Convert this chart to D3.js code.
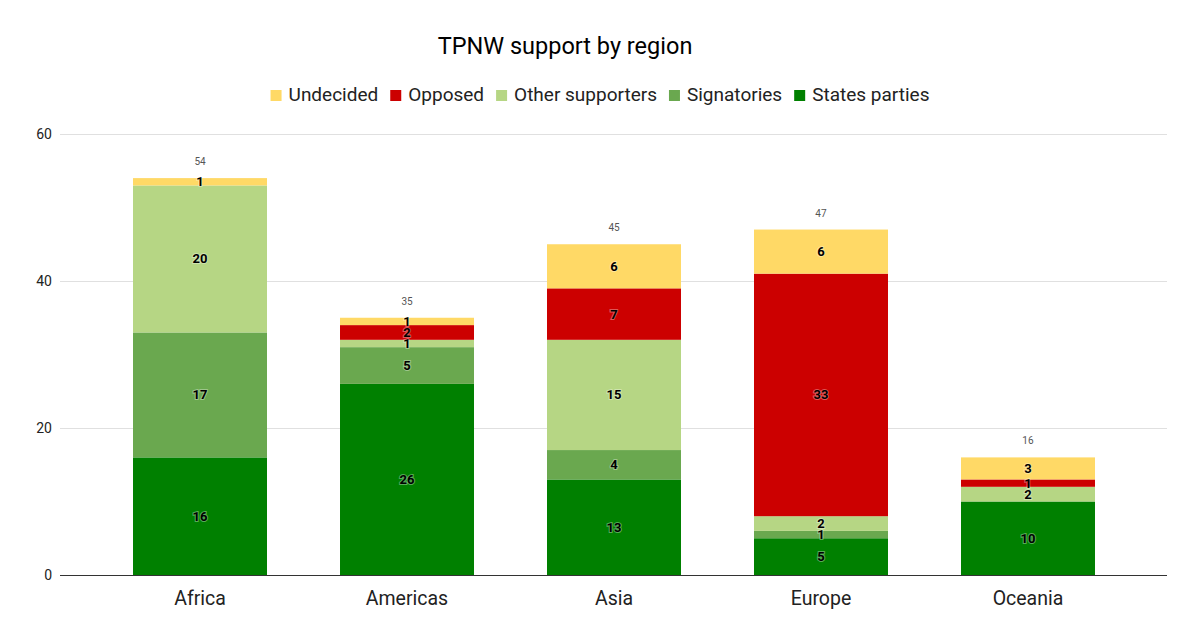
<!DOCTYPE html>
<html>
<head>
  <meta charset="utf-8">
  <title>TPNW support by region</title>
  <script src="https://d3js.org/d3.v7.min.js"></script>
  <style>
    body { margin: 0; background: #fff; }
    text { font-family: Roboto, "Noto Sans", sans-serif; }
  </style>
</head>
<body>
  <script>
    var regions = ['Africa', 'Americas', 'Asia', 'Europe', 'Oceania'];
    var statesParties = [16, 26, 13, 5, 10];
    var signatories = [17, 5, 4, 1, 0];
    var otherSupporters = [20, 1, 15, 2, 2];
    var opposed = [0, 2, 7, 33, 1];
    var undecided = [1, 1, 6, 6, 3];
    var yTicks = [0, 20, 40, 60];

    var seriesNames = ['States parties', 'Signatories', 'Other supporters', 'Opposed', 'Undecided'];
    var seriesValues = [statesParties, signatories, otherSupporters, opposed, undecided];
    var colors = ['#008000', '#6aa84f', '#b6d684', '#cc0000', '#ffd966'];

    var width = 1200, height = 641;
    var svg = d3.select('body').append('svg')
      .attr('width', width)
      .attr('height', height);

    var rows = regions.map(function(r, i) {
      var o = { region: r };
      seriesNames.forEach(function(s, j) { o[s] = seriesValues[j][i]; });
      return o;
    });

    var x = d3.scaleBand().domain(regions).range([60, 1168]).padding(0.3527);
    var y = d3.scaleLinear().domain([0, 60]).range([575, 134]);

    // gridlines
    svg.append('g').selectAll('line').data(yTicks.slice(1)).join('line')
      .attr('x1', 60).attr('x2', 1167)
      .attr('y1', d => y(d) + 0.5).attr('y2', d => y(d) + 0.5)
      .attr('stroke', '#e0e0e0').attr('stroke-width', 1);

    svg.append('g').selectAll('text').data(yTicks).join('text')
      .attr('x', 52).attr('y', d => y(d) + 5)
      .attr('text-anchor', 'end')
      .attr('font-size', 14).attr('fill', '#222')
      .text(d => d);

    var stack = d3.stack().keys(seriesNames)(rows);

    var groups = svg.append('g').selectAll('g').data(stack).join('g')
      .attr('fill', (d, i) => colors[i]);

    groups.selectAll('rect').data(d => d).join('rect')
      .attr('x', d => x(d.data.region))
      .attr('width', x.bandwidth())
      .attr('y', d => y(d[1]))
      .attr('height', d => y(d[0]) - y(d[1]));

    // value labels
    var labels = svg.append('g');
    stack.forEach(function(layer) {
      layer.forEach(function(d) {
        var v = d[1] - d[0];
        if (!v) return;
        labels.append('text')
          .attr('x', x(d.data.region) + x.bandwidth() / 2)
          .attr('y', y((d[0] + d[1]) / 2) + 4.5)
          .attr('text-anchor', 'middle')
          .attr('font-size', 13).attr('font-weight', 'bold')
          .attr('fill', '#000')
          .attr('stroke', 'rgba(255,255,255,0.35)').attr('stroke-width', 2)
          .attr('paint-order', 'stroke')
          .text(v);
      });
    });

    // totals
    svg.append('g').selectAll('text').data(rows).join('text')
      .attr('x', d => x(d.region) + x.bandwidth() / 2)
      .attr('y', d => y(d3.sum(seriesNames, s => d[s])) - 13)
      .attr('text-anchor', 'middle')
      .attr('font-size', 10).attr('fill', '#555')
      .text(d => d3.sum(seriesNames, s => d[s]));

    // baseline
    svg.append('line')
      .attr('x1', 60).attr('x2', 1167)
      .attr('y1', y(0) + 0.5).attr('y2', y(0) + 0.5)
      .attr('stroke', '#333').attr('stroke-width', 1);

    svg.append('g').selectAll('text').data(regions).join('text')
      .attr('x', d => x(d) + x.bandwidth() / 2)
      .attr('y', 605)
      .attr('text-anchor', 'middle')
      .attr('font-size', 19.5).attr('fill', '#222')
      .text(d => d);

    svg.append('text')
      .attr('x', 565).attr('y', 54)
      .attr('text-anchor', 'middle')
      .attr('font-size', 23.5).attr('fill', '#000')
      .text('TPNW support by region');

    // legend, reversed order like the source
    var legend = svg.append('g');
    var order = [4, 3, 2, 1, 0];
    var cx = 0;
    order.forEach(function(i) {
      var g = legend.append('g').attr('transform', 'translate(' + cx + ',0)');
      g.append('rect').attr('x', 0).attr('y', -11).attr('width', 11).attr('height', 11)
        .attr('fill', colors[i]);
      var t = g.append('text').attr('x', 18).attr('y', 0)
        .attr('font-size', 19).attr('fill', '#222').text(seriesNames[i]);
      cx += 18 + t.node().getComputedTextLength() + 12;
    });
    var lw = cx - 12;
    legend.attr('transform', 'translate(' + (600 - lw / 2) + ',101)');
  </script>
</body>
</html>
